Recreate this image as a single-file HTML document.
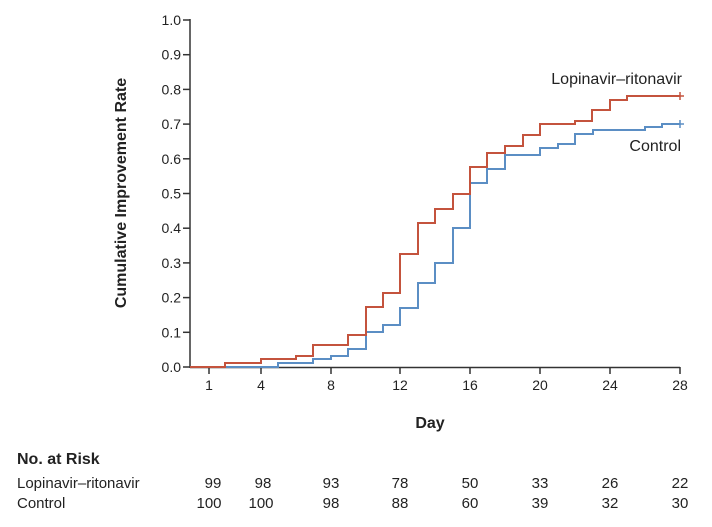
<!DOCTYPE html>
<html><head><meta charset="utf-8"><style>
body{margin:0;background:#fff;width:712px;height:527px;overflow:hidden}
svg{display:block}
text{font-family:"Liberation Sans",sans-serif;fill:#222}
</style></head><body>
<svg width="712" height="527" viewBox="0 0 712 527">
<g stroke="#333" stroke-width="1.5" fill="none">
<line x1="190" y1="19" x2="190" y2="368"/>
<line x1="190" y1="367.5" x2="680" y2="367.5"/>
<g>
<line x1="183" y1="20" x2="190" y2="20"/><line x1="183" y1="54.7" x2="190" y2="54.7"/><line x1="183" y1="89.4" x2="190" y2="89.4"/><line x1="183" y1="124.1" x2="190" y2="124.1"/><line x1="183" y1="158.8" x2="190" y2="158.8"/><line x1="183" y1="193.5" x2="190" y2="193.5"/><line x1="183" y1="228.2" x2="190" y2="228.2"/><line x1="183" y1="262.9" x2="190" y2="262.9"/><line x1="183" y1="297.6" x2="190" y2="297.6"/><line x1="183" y1="332.3" x2="190" y2="332.3"/><line x1="183" y1="367" x2="190" y2="367"/>
</g>
<g>
<line x1="209" y1="367" x2="209" y2="374"/><line x1="261" y1="367" x2="261" y2="374"/><line x1="331" y1="367" x2="331" y2="374"/><line x1="400" y1="367" x2="400" y2="374"/><line x1="470" y1="367" x2="470" y2="374"/><line x1="540" y1="367" x2="540" y2="374"/><line x1="610" y1="367" x2="610" y2="374"/><line x1="680" y1="367" x2="680" y2="374"/>
</g>
</g>
<g font-size="14" text-anchor="end">
<text x="181" y="25">1.0</text><text x="181" y="59.7">0.9</text><text x="181" y="94.4">0.8</text><text x="181" y="129.1">0.7</text><text x="181" y="163.8">0.6</text><text x="181" y="198.5">0.5</text><text x="181" y="233.2">0.4</text><text x="181" y="267.9">0.3</text><text x="181" y="302.6">0.2</text><text x="181" y="337.3">0.1</text><text x="181" y="372">0.0</text>
</g>
<g font-size="14" text-anchor="middle">
<text x="209" y="390">1</text><text x="261" y="390">4</text><text x="331" y="390">8</text><text x="400" y="390">12</text><text x="470" y="390">16</text><text x="540" y="390">20</text><text x="610" y="390">24</text><text x="680" y="390">28</text>
</g>
<text x="430" y="428" font-size="16" font-weight="bold" text-anchor="middle">Day</text>
<text transform="translate(126,193) rotate(-90)" font-size="16" font-weight="bold" text-anchor="middle">Cumulative Improvement Rate</text>
<polyline fill="none" stroke="#5b8ec4" stroke-width="2" points="190,367 278,367 278,363 313,363 313,359 331,359 331,356 348,356 348,349 366,349 366,332 383,332 383,325 400,325 400,308 418,308 418,283 435,283 435,263 453,263 453,228 470,228 470,183 487,183 487,169 505,169 505,155 540,155 540,148 558,148 558,144 575,144 575,134 593,134 593,130 645,130 645,127 662,127 662,124 680,124"/>
<polyline fill="none" stroke="#c4533d" stroke-width="2" points="190,367 225,367 225,363 261,363 261,359 296,359 296,356 313,356 313,345 348,345 348,335 366,335 366,307 383,307 383,293 400,293 400,254 418,254 418,223 435,223 435,209 453,209 453,194 470,194 470,167 487,167 487,153 505,153 505,146 523,146 523,135 540,135 540,124 575,124 575,121 592,121 592,110 610,110 610,100 627,100 627,96 680,96"/>
<g stroke-width="1.5"><line x1="676" y1="96" x2="684" y2="96" stroke="#c4533d"/><line x1="680" y1="92" x2="680" y2="100" stroke="#c4533d"/>
<line x1="676" y1="124" x2="684" y2="124" stroke="#5b8ec4"/><line x1="680" y1="120" x2="680" y2="128" stroke="#5b8ec4"/></g>
<text x="682" y="84" font-size="16" text-anchor="end">Lopinavir–ritonavir</text>
<text x="681" y="151" font-size="16" text-anchor="end">Control</text>
<text x="17" y="464" font-size="16" font-weight="bold">No. at Risk</text>
<text x="17" y="488" font-size="15">Lopinavir–ritonavir</text>
<text x="17" y="508" font-size="15">Control</text>
<g font-size="15" text-anchor="middle">
<text x="213" y="488">99</text><text x="263" y="488">98</text><text x="331" y="488">93</text><text x="400" y="488">78</text><text x="470" y="488">50</text><text x="540" y="488">33</text><text x="610" y="488">26</text><text x="680" y="488">22</text>
<text x="209" y="508">100</text><text x="261" y="508">100</text><text x="331" y="508">98</text><text x="400" y="508">88</text><text x="470" y="508">60</text><text x="540" y="508">39</text><text x="610" y="508">32</text><text x="680" y="508">30</text>
</g>
</svg>
</body></html>
